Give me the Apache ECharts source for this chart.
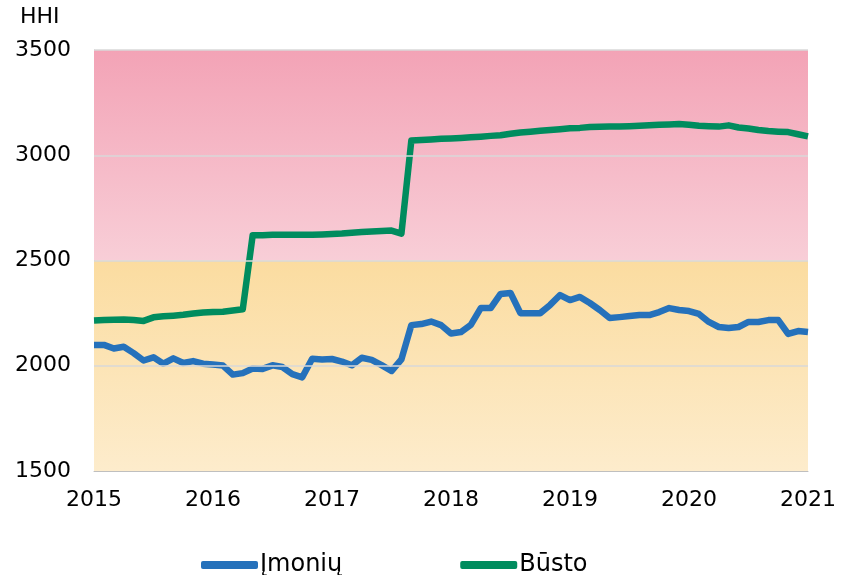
<!DOCTYPE html>
<html><head><meta charset="utf-8">
<script src="https://cdn.jsdelivr.net/npm/echarts@6/dist/echarts.min.js"></script>
<style>html,body{margin:0;padding:0;background:#fff}#c{width:841px;height:575px}</style>
</head><body><div id="c"></div>
<script>
// monthly categories Jan 2015 .. Jan 2021
const categories = [];
for (let y = 2015; y <= 2021; y++) for (let m = 1; m <= 12; m++) { if (y === 2021 && m > 1) break; categories.push(y + '-' + String(m).padStart(2,'0')); }
const seriesNames = ['Įmonių', 'Būsto'];
const imoniu = [2099,2099,2082,2090,2060,2025,2040,2010,2035,2013,2022,2010,2006,2001,1958,1965,1987,1985,2002,1994,1960,1945,2033,2030,2032,2020,2002,2038,2028,2003,1975,2030,2193,2198,2210,2193,2153,2160,2194,2274,2274,2341,2346,2250,2250,2250,2289,2336,2312,2327,2298,2265,2227,2231,2236,2241,2241,2255,2274,2265,2260,2246,2208,2184,2179,2184,2208,2208,2217,2217,2151,2165,2160];
const busto = [2215,2217,2219,2220,2217,2213,2230,2235,2238,2242,2248,2253,2255,2257,2262,2268,2620,2620,2622,2622,2622,2622,2622,2624,2626,2628,2632,2635,2638,2640,2642,2628,3070,3072,3075,3078,3080,3082,3085,3088,3092,3095,3102,3108,3112,3116,3120,3124,3128,3130,3134,3135,3136,3137,3138,3140,3143,3145,3146,3148,3145,3140,3138,3136,3142,3132,3127,3120,3115,3112,3110,3100,3090];
const yTicks = [1500, 2000, 2500, 3000, 3500];
const zones = [[1500, 2500], [2500, 3500]];

const FONT = '"DejaVu Sans", Verdana, sans-serif';
const chart = echarts.init(document.getElementById('c'), null, {renderer: 'canvas'});
chart.setOption({
  animation: false,
  textStyle: {fontFamily: FONT},
  grid: {left: 94, right: 33, top: 50, bottom: 104, containLabel: false},
  graphic: [{type: 'text', left: 20, top: 6, style: {text: 'HHI', font: '22px ' + FONT, fill: '#000'}}],
  legend: {
    data: seriesNames, bottom: -7, left: 196, itemWidth: 57, itemHeight: 8, itemGap: 118,
    icon: 'roundRect',
    textStyle: {fontSize: 24, fontFamily: FONT, color: '#000', padding: [0,0,0,-3]}
  },
  xAxis: {
    type: 'category', data: categories, boundaryGap: false,
    axisLine: {show: true, lineStyle: {color: '#bfbfbf', width: 1}},
    axisTick: {show: false},
    axisLabel: {interval: (i) => i % 12 === 0, formatter: (v) => v.slice(0,4), fontSize: 22, color: '#000', margin: 18, fontFamily: FONT},
    splitLine: {show: false}
  },
  yAxis: {
    type: 'value', min: yTicks[0], max: yTicks[yTicks.length-1], interval: 500,
    axisLine: {show: true, lineStyle: {color: '#bfbfbf', width: 1}},
    axisTick: {show: false},
    axisLabel: {fontSize: 22, color: '#000', margin: 23, fontFamily: FONT, formatter: (v) => String(v)},
    splitLine: {show: false}
  },
  series: [
    {type: 'line', data: [], z: 1, silent: true,
     markArea: {silent: true, data: [
       [{yAxis: zones[0][0], itemStyle: {color: {type:'linear', x:0,y:0,x2:0,y2:1, colorStops:[{offset:0,color:'#FBDCA0'},{offset:1,color:'#FDECCC'}]}}}, {yAxis: zones[0][1]}],
       [{yAxis: zones[1][0], itemStyle: {color: {type:'linear', x:0,y:0,x2:0,y2:1, colorStops:[{offset:0,color:'#F3A3B6'},{offset:1,color:'#F8CED7'}]}}}, {yAxis: zones[1][1]}]
     ]}},
    {type: 'line', data: [], z: 2, silent: true,
     markLine: {silent: true, symbol: 'none', label: {show: false}, lineStyle: {color: '#d9d9d9', type: 'solid', width: 1.5},
       data: yTicks.slice(1).map(v => ({yAxis: v}))}},
    {name: seriesNames[0], type: 'line', data: imoniu, z: 3, showSymbol: false, symbol: 'none',
     lineStyle: {color: '#2571BB', width: 6.5, join: 'round'}, itemStyle: {color: '#2571BB'}},
    {name: seriesNames[1], type: 'line', data: busto, z: 3, showSymbol: false, symbol: 'none',
     lineStyle: {color: '#008C5E', width: 6.5, join: 'round'}, itemStyle: {color: '#008C5E'}}
  ]
});
</script></body></html>
